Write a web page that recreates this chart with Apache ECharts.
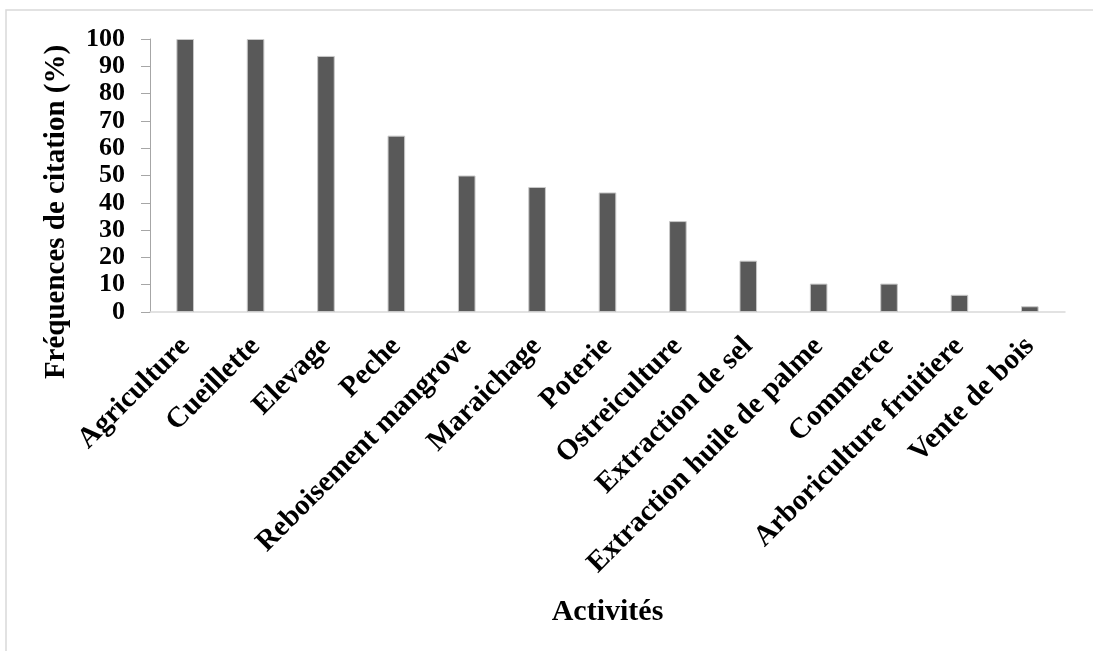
<!DOCTYPE html>
<html>
<head>
<meta charset="utf-8">
<script src="https://cdn.jsdelivr.net/npm/echarts@6/dist/echarts.min.js"></script>
<style>
  html, body { margin: 0; padding: 0; background: #ffffff; }
  #chart { width: 1093px; height: 651px; }
</style>
</head>
<body>
<div id="chart"></div>
<script>
// Activities cited and their citation frequency (%)
const activites = [
  'Agriculture', 'Cueillette', 'Elevage', 'Peche', 'Reboisement mangrove',
  'Maraichage', 'Poterie', 'Ostreiculture', 'Extraction de sel',
  'Extraction huile de palme', 'Commerce', 'Arboriculture fruitiere', 'Vente de bois'
];
const frequences = [100, 100, 93.8, 64.6, 50, 45.8, 43.8, 33.3, 18.8, 10.4, 10.4, 6.3, 2.1];
const yTicks = [0, 10, 20, 30, 40, 50, 60, 70, 80, 90, 100];

const serif = '"Liberation Serif", "Times New Roman", serif';

const chart = echarts.init(document.getElementById('chart'), null, { renderer: 'canvas' });

chart.setOption({
  animation: false,
  backgroundColor: '#ffffff',
  grid: { left: 150, right: 28, top: 39, bottom: 339, containLabel: false },
  graphic: [
    {
      type: 'rect',
      shape: { x: 6, y: 10, width: 1200, height: 800 },
      style: { fill: 'none', stroke: '#d9d9d9', lineWidth: 1.5 },
      silent: true
    },
    {
      type: 'text',
      x: 57, y: 212,
      rotation: Math.PI / 2,
      style: {
        text: 'Fréquences de citation (%)',
        font: 'bold 29px ' + serif,
        fill: '#000000',
        align: 'center',
        verticalAlign: 'middle'
      }
    }
  ],
  xAxis: {
    type: 'category',
    data: activites,
    name: 'Activités',
    nameLocation: 'middle',
    nameGap: 285,
    nameTextStyle: { fontFamily: serif, fontWeight: 'bold', fontSize: 30, color: '#000' },
    axisLine: { show: true, lineStyle: { color: '#d9d9d9', width: 1.5 } },
    axisTick: { show: false },
    axisLabel: {
      interval: 0,
      rotate: 45,
      margin: 30,
      hideOverlap: false,
      fontFamily: serif,
      fontWeight: 'bold',
      fontSize: 29,
      color: '#000'
    }
  },
  yAxis: {
    type: 'value',
    min: 0,
    max: 100,
    interval: 10,
    axisLine: { show: true, lineStyle: { color: '#a6a6a6', width: 1 } },
    axisTick: { show: true, length: 9, lineStyle: { color: '#a6a6a6' } },
    splitLine: { show: false },
    axisLabel: {
      margin: 25,
      fontFamily: serif,
      fontWeight: 'bold',
      fontSize: 26,
      color: '#000',
      formatter: v => (yTicks.includes(v) ? String(v) : '')
    }
  },
  series: [{
    type: 'bar',
    data: frequences,
    barWidth: '25%',
    itemStyle: { color: '#595959', borderColor: '#c8c8c8', borderWidth: 1 }
  }]
});
</script>
</body>
</html>
